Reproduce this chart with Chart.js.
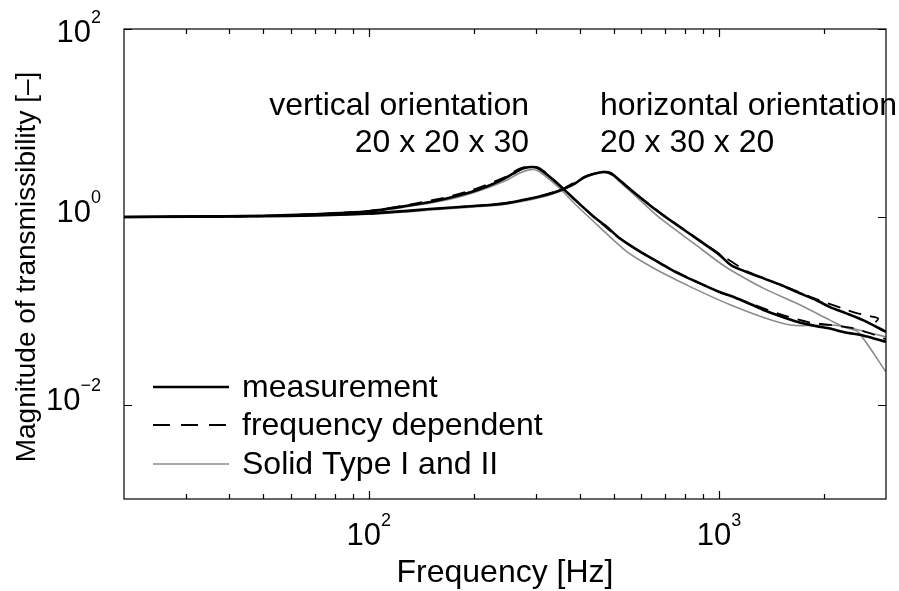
<!DOCTYPE html>
<html>
<head>
<meta charset="utf-8">
<script src="https://cdn.jsdelivr.net/npm/chart.js@4/dist/chart.umd.min.js"></script>
<style>
  html, body { margin: 0; padding: 0; background: #fff; }
</style>
</head>
<body>
<canvas id="chart" width="899" height="591"></canvas>
<script>
// vertical orientation 20 x 20 x 30
const freqMeasV = [20, 30, 50, 70, 100, 126, 157, 196, 220, 244, 271, 285, 294, 305, 324, 355, 390, 440, 480, 513, 548, 600, 682, 760, 850, 1000, 1106, 1233, 1347, 1500, 1672, 1900, 2076, 2300, 2580, 3000];
const measV = [1.0, 1.01, 1.03, 1.07, 1.15, 1.3, 1.5, 1.85, 2.15, 2.56, 3.2, 3.38, 3.4, 3.3, 2.8, 2.08, 1.5, 1.0, 0.78, 0.62, 0.52, 0.42, 0.32, 0.255, 0.21, 0.16, 0.14, 0.118, 0.102, 0.088, 0.077, 0.069, 0.065, 0.059, 0.055, 0.047];

const freqDashV = [20, 50, 100, 157, 196, 244, 271, 290, 305, 324, 355, 390, 440, 513, 600, 682, 850, 1000, 1233, 1500, 1800, 2076, 2400, 2700, 3000];
const dashV = [1.0, 1.03, 1.16, 1.55, 1.92, 2.65, 3.3, 3.46, 3.35, 2.85, 2.1, 1.5, 1.0, 0.62, 0.42, 0.32, 0.21, 0.16, 0.12, 0.092, 0.076, 0.071, 0.066, 0.058, 0.05];

const freqSolidV = [20, 50, 100, 157, 196, 244, 271, 290, 305, 324, 354, 390, 440, 513, 548, 600, 682, 850, 1085, 1347, 1600, 1800, 2076, 2300, 2580, 3000];
const solidV = [1.0, 1.03, 1.14, 1.45, 1.78, 2.4, 2.95, 3.19, 3.08, 2.6, 1.95, 1.35, 0.885, 0.52, 0.424, 0.34, 0.26, 0.173, 0.115, 0.085, 0.071, 0.070, 0.071, 0.068, 0.061, 0.053];

// horizontal orientation 20 x 30 x 20
const freqMeasH = [20, 50, 70, 100, 157, 200, 244, 303, 335, 361, 390, 413, 440, 469, 490, 513, 548, 610, 682, 760, 850, 1000, 1085, 1200, 1347, 1500, 1672, 1900, 2076, 2300, 2580, 3000];
const measH = [1.0, 1.02, 1.04, 1.09, 1.23, 1.31, 1.39, 1.63, 1.8, 2.0, 2.3, 2.66, 2.88, 3.01, 2.95, 2.58, 2.08, 1.5, 1.09, 0.82, 0.613, 0.4, 0.306, 0.26, 0.221, 0.19, 0.159, 0.13, 0.110, 0.095, 0.080, 0.060];

const freqDashH = [20, 50, 100, 157, 244, 303, 361, 413, 469, 513, 548, 610, 682, 850, 1000, 1203, 1405, 1672, 1918, 2232, 2446, 2700, 2850, 2760];
const dashH = [1.0, 1.02, 1.09, 1.23, 1.4, 1.64, 2.02, 2.68, 3.03, 2.6, 2.1, 1.52, 1.1, 0.62, 0.41, 0.265, 0.208, 0.162, 0.132, 0.108, 0.096, 0.088, 0.083, 0.072];

const freqSolidH = [20, 50, 100, 157, 200, 244, 303, 361, 413, 445, 469, 495, 513, 548, 610, 682, 850, 1000, 1085, 1347, 1672, 2076, 2265, 2493, 3000];
const solidH = [1.0, 1.02, 1.07, 1.2, 1.28, 1.36, 1.58, 1.95, 2.6, 2.88, 2.98, 2.85, 2.5, 2.0, 1.39, 0.96, 0.52, 0.33, 0.27, 0.173, 0.12, 0.080, 0.068, 0.060, 0.0225];

// axis ticks
const xMajorTicks = [100, 1000];
const xMinorTicks = [30, 40, 50, 60, 70, 80, 90, 200, 300, 400, 500, 600, 700, 800, 900, 2000];
const yTicks = [1e-2, 1, 1e2];
const yTickExp = ['\u22122', '0', '2'];
const xTickExp = ['2', '3'];

const legendLabels = ['measurement', 'frequency dependent', 'Solid Type I and II'];

const FONT = "'Liberation Sans', Arial, Helvetica, sans-serif";

function pts(fs, vs) {
    return fs.map((f, i) => ({ x: f, y: vs[i] }));
}

const measStyle = { borderColor: '#000', borderWidth: 2.6, borderDash: [] };
const dashStyle = { borderColor: '#000', borderWidth: 1.8, borderDash: [13, 9] };
const solidStyle = { borderColor: '#8c8c8c', borderWidth: 1.6, borderDash: [] };

function ds(data, style) {
    return Object.assign({ data: data, pointRadius: 0, tension: 0.25, fill: false }, style);
}

const datasets = [
    ds(pts(freqMeasV, measV), measStyle),
    ds(pts(freqMeasH, measH), measStyle),
    ds(pts(freqDashV, dashV), dashStyle),
    ds(pts(freqDashH, dashH), dashStyle),
    ds(pts(freqSolidV, solidV), solidStyle),
    ds(pts(freqSolidH, solidH), solidStyle)
];

function drawPow(ctx, exp, x, y, align) {
    ctx.font = '31px ' + FONT;
    const wb = ctx.measureText('10').width;
    ctx.font = '18px ' + FONT;
    const we = ctx.measureText(exp).width;
    const total = wb + we;
    const left = align === 'center' ? x - total / 2 : x - total;
    ctx.textAlign = 'left';
    ctx.textBaseline = 'alphabetic';
    ctx.font = '31px ' + FONT;
    ctx.fillText('10', left, y);
    ctx.font = '18px ' + FONT;
    ctx.fillText(exp, left + wb, y - 19);
}

const framePlugin = {
    id: 'frame',
    afterDatasetsDraw(chart) {
        const ctx = chart.ctx;
        const a = chart.chartArea;
        const xs = chart.scales.x;
        const ys = chart.scales.y;
        ctx.save();
        ctx.strokeStyle = '#000';
        ctx.fillStyle = '#000';
        ctx.lineWidth = 1.2;
        ctx.setLineDash([]);
        ctx.strokeRect(a.left, a.top, a.right - a.left, a.bottom - a.top);

        // inward ticks
        ctx.beginPath();
        xMajorTicks.forEach(v => {
            const px = Math.round(xs.getPixelForValue(v)) + 0.5;
            ctx.moveTo(px, a.bottom); ctx.lineTo(px, a.bottom - 8);
            ctx.moveTo(px, a.top); ctx.lineTo(px, a.top + 8);
        });
        xMinorTicks.forEach(v => {
            const px = Math.round(xs.getPixelForValue(v)) + 0.5;
            ctx.moveTo(px, a.bottom); ctx.lineTo(px, a.bottom - 5);
            ctx.moveTo(px, a.top); ctx.lineTo(px, a.top + 5);
        });
        yTicks.forEach(v => {
            const py = Math.round(ys.getPixelForValue(v)) + 0.5;
            ctx.moveTo(a.left, py); ctx.lineTo(a.left + 8, py);
            ctx.moveTo(a.right, py); ctx.lineTo(a.right - 8, py);
        });
        ctx.stroke();

        // tick labels
        xMajorTicks.forEach((v, i) => {
            drawPow(ctx, xTickExp[i], xs.getPixelForValue(v), 545, 'center');
        });
        yTicks.forEach((v, i) => {
            const py = ys.getPixelForValue(v);
            drawPow(ctx, yTickExp[i], 101, Math.max(py + 5, a.top + 13), 'right');
        });

        // axis titles
        ctx.textAlign = 'center';
        ctx.textBaseline = 'alphabetic';
        ctx.font = '32px ' + FONT;
        ctx.fillText('Frequency [Hz]', (a.left + a.right) / 2, 582);
        ctx.save();
        ctx.font = '28px ' + FONT;
        ctx.translate(35, 267);
        ctx.rotate(-Math.PI / 2);
        ctx.fillText('Magnitude of transmissibility [\u2013]', 0, 0);
        ctx.restore();

        // annotations
        ctx.font = '32px ' + FONT;
        ctx.textAlign = 'right';
        ctx.fillText('vertical orientation', 529, 115);
        ctx.fillText('20 x 20 x 30', 529, 152);
        ctx.textAlign = 'left';
        ctx.fillText('horizontal orientation', 600, 115);
        ctx.fillText('20 x 30 x 20', 600, 152);

        // legend
        const styles = [measStyle, dashStyle, solidStyle];
        const baselines = [397, 435, 474];
        styles.forEach((s, i) => {
            const ly = baselines[i] - 10;
            ctx.beginPath();
            ctx.strokeStyle = s.borderColor;
            ctx.lineWidth = s.borderWidth;
            ctx.setLineDash(s.borderDash.length ? [17, 11] : []);
            ctx.moveTo(153, ly);
            ctx.lineTo(229, ly);
            ctx.stroke();
            ctx.setLineDash([]);
            ctx.fillStyle = '#000';
            ctx.font = '32px ' + FONT;
            ctx.textAlign = 'left';
            ctx.fillText(legendLabels[i], 242, baselines[i]);
        });
        ctx.restore();
    }
};

new Chart(document.getElementById('chart').getContext('2d'), {
    type: 'line',
    data: { datasets: datasets },
    options: {
        responsive: false,
        animation: false,
        devicePixelRatio: 1,
        layout: { padding: { left: 124, right: 13, top: 29, bottom: 92 } },
        plugins: { legend: { display: false }, tooltip: { enabled: false } },
        scales: {
            x: { type: 'logarithmic', min: 20, max: 3000, display: false },
            y: { type: 'logarithmic', min: 1e-3, max: 1e2, display: false }
        }
    },
    plugins: [framePlugin]
});
</script>
</body>
</html>
